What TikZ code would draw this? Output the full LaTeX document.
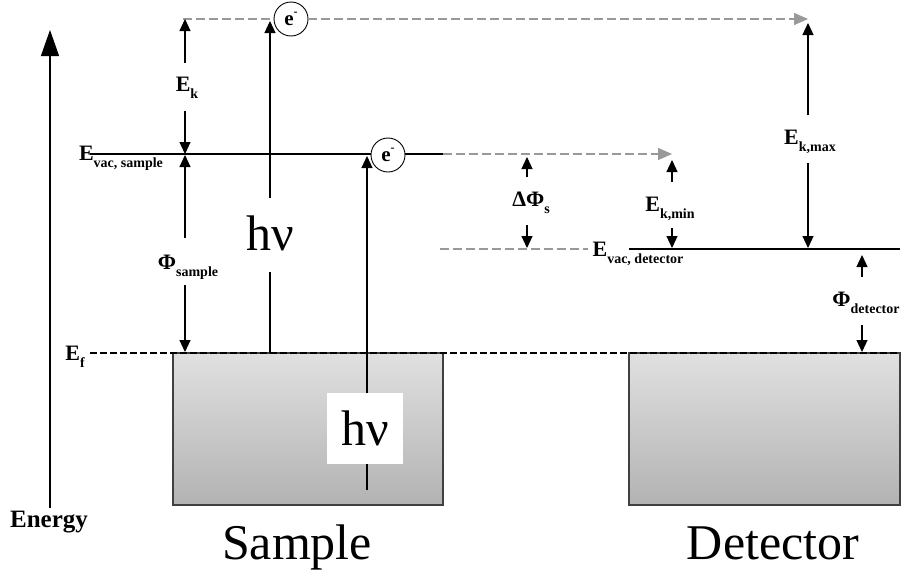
\documentclass[tikz,border=0pt]{standalone}
\usepackage{fontspec}
\setmainfont{Liberation Serif}
\usetikzlibrary{arrows.meta}

% label with a lowered subscript, set in bold
\newcommand{\lvl}[2]{#1\raisebox{-0.3em}{\fontsize{14}{14}\selectfont #2}}

\tikzset{
  lbl/.style={font=\fontsize{22}{22}\selectfont\bfseries, inner sep=0pt},
  big/.style={font=\fontsize{50}{50}\selectfont, inner sep=0pt},
  line/.style={line width=1.2pt, black},
  arr/.style={line, -{Triangle[length=12pt,width=11pt]}},
  garr/.style={line width=1.2pt, draw=black!40, dash pattern=on 9pt off 4pt,
               -{Triangle[length=14pt,width=12pt,fill=black!40]}},
  gdash/.style={line width=1.2pt, draw=black!40, dash pattern=on 9pt off 4pt},
  kdash/.style={line width=1.2pt, black, dash pattern=on 7pt off 3pt},
  electron/.style={circle, draw, line width=0.9pt, fill=white, minimum size=34pt,
                   inner sep=0pt, font=\fontsize{21}{21}\selectfont\bfseries},
  block/.style={draw=black!75, line width=1.2pt, top color=black!12, bottom color=black!30},
}

\begin{document}
\begin{tikzpicture}[x=1pt, y=-1pt]
\useasboundingbox (0,0) rectangle (901,573);

% metal blocks
\path[block] (173,353) rectangle (443,505);
\path[block] (629,353) rectangle (900,505);
\node[big, anchor=base] (sample) at (297,559) {Sample};
\node[big, anchor=base] (detector) at (773,559) {Detector};

% energy axis
\coordinate (axb) at (50,508);
\coordinate (axt) at (50,30);
\draw[line, -{Triangle[length=26pt,width=18pt]}] (axb) -- (axt);
\node[lbl, font=\fontsize{25}{25}\selectfont\bfseries] (energy) at (49,522) {Energy};

% Fermi level
\coordinate (efl) at (90,353);
\coordinate (efr) at (900,353);
\draw[kdash] (efl) -- (efr);
\node[lbl] (ef) at (75,357) {\lvl{E}{f}};

% vacuum level of the sample
\coordinate (vsl) at (90,154);
\coordinate (vsr) at (443,154);
\draw[line] (vsl) -- (vsr);
\node[lbl] (evs) at (121,158) {\lvl{E}{vac, sample}};

% vacuum level of the detector
\coordinate (vdg) at (440,249);
\coordinate (vdge) at (588,249);
\coordinate (vdl) at (629,249);
\coordinate (vdr) at (900,249);
\draw[gdash] (vdg) -- (vdge);
\draw[line] (vdl) -- (vdr);
\node[lbl] (evd) at (638,254) {\lvl{E}{vac, detector}};

% photon absorbed at the Fermi level
\coordinate (p1b) at (270,353);
\coordinate (p1m) at (270,272);
\coordinate (p1n) at (270,198);
\coordinate (p1t) at (270,21);
\draw[line] (p1b) -- (p1m);
\draw[arr] (p1n) -- (p1t);
\node[big] (hv1) at (270,233) {hν};

% photon absorbed deeper in the sample
\coordinate (p2b) at (367,490);
\coordinate (p2t) at (367,156);
\draw[arr] (p2b) -- (p2t);
\node[big, fill=white, minimum width=76pt, minimum height=71pt] (hv2) at (365,428) {hν};

% emitted electrons
\node[electron] (e1) at (291,19) {e\raisebox{0.45em}{\fontsize{12}{12}\selectfont -}};
\node[electron] (e2) at (388,155) {e\raisebox{0.45em}{\fontsize{12}{12}\selectfont -}};

\coordinate (g1s) at (183,19);
\coordinate (g1t) at (808,19);
\coordinate (g2t) at (672,154);
\draw[gdash] (g1s) -- (e1);
\draw[garr] (e1) -- (g1t);
\draw[garr] (vsr) -- (g2t);

% kinetic energy in the sample
\coordinate (ka) at (185,63);
\coordinate (kt) at (185,19);
\coordinate (kb) at (185,111);
\coordinate (kv) at (185,154);
\draw[arr] (ka) -- (kt);
\draw[arr] (kb) -- (kv);
\node[lbl] (ek) at (187,88) {\lvl{E}{k}};

% sample work function
\coordinate (sa) at (185,238);
\coordinate (sv) at (185,155);
\coordinate (sb) at (185,285);
\coordinate (sf) at (185,352);
\draw[arr] (sa) -- (sv);
\draw[arr] (sb) -- (sf);
\node[lbl] (phis) at (188,267) {\lvl{Φ}{sample}};

% contact potential difference
\coordinate (da) at (527,177);
\coordinate (dt) at (527,157);
\coordinate (db) at (527,225);
\coordinate (dv) at (527,248);
\draw[arr] (da) -- (dt);
\draw[arr] (db) -- (dv);
\node[lbl] (dphi) at (531,203) {\lvl{ΔΦ}{s}};

% minimum kinetic energy at the detector
\coordinate (ma) at (672,182);
\coordinate (mt) at (672,160);
\coordinate (mb) at (672,228);
\coordinate (mv) at (672,248);
\draw[arr] (ma) -- (mt);
\draw[arr] (mb) -- (mv);
\node[lbl] (ekmin) at (670,209) {\lvl{E}{k,min}};

% maximum kinetic energy at the detector
\coordinate (xa) at (808,115);
\coordinate (xt) at (808,23);
\coordinate (xb) at (808,163);
\coordinate (xv) at (808,248);
\draw[arr] (xa) -- (xt);
\draw[arr] (xb) -- (xv);
\node[lbl] (ekmax) at (810,142) {\lvl{E}{k,max}};

% detector work function
\coordinate (qa) at (862,277);
\coordinate (qt) at (862,255);
\coordinate (qb) at (862,325);
\coordinate (qf) at (862,352);
\draw[arr] (qa) -- (qt);
\draw[arr] (qb) -- (qf);
\node[lbl] (phid) at (866,303) {\lvl{Φ}{detector}};
\end{tikzpicture}
\end{document}
